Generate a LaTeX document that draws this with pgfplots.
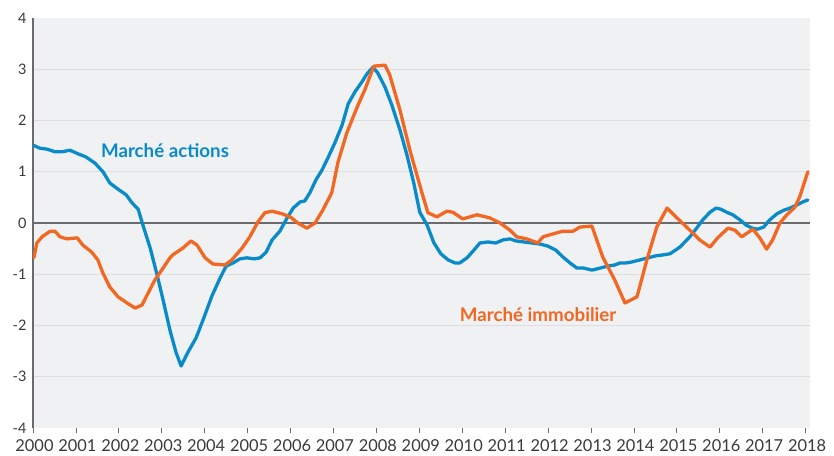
\documentclass[border=0pt]{standalone}
\usepackage{fontspec}
\setmainfont{Lato}
\usepackage{pgfplots}
\pgfplotsset{compat=1.18}
\definecolor{bgc}{HTML}{F0F1F3}
\definecolor{gridc}{HTML}{DCDEE1}
\definecolor{axc}{HTML}{6B6B6E}
\definecolor{txtc}{HTML}{3A3A3C}
\definecolor{cblue}{HTML}{0A8BC9}
\definecolor{corange}{HTML}{F26722}
\begin{document}
\begin{tikzpicture}
\begin{axis}[name=ax, scale only axis, width=777bp, height=410bp,
  xmin=2000, xmax=2018.1, ymin=-4, ymax=4,
  axis background/.style={fill=bgc},
  axis lines*=left,
  x axis line style={draw=none},
  y axis line style={draw=axc, line width=1.6bp},
  xtick={2000,...,2018},
  xticklabels={2000,2001,2002,2003,2004,2005,2006,2007,2008,2009,2010,2011,2012,2013,2014,2015,2016,2017,2018},
  xtick align=outside, major tick length=5bp,
  xtick style={draw=axc, line width=0.8bp},
  ytick={-3,-2,-1,0,1,2,3},
  yticklabels={-3,-2,-1,0,1,2,3},
  extra y ticks={-4,4}, extra y tick labels={-4,4},
  extra y tick style={ymajorgrids=false},
  ytick style={draw=none},
  ymajorgrids, grid style={gridc, line width=1bp},
  tick label style={text=txtc},
  yticklabel style={font=\fontsize{14.5}{17}\selectfont, xshift=-3bp},
  xticklabel style={font=\fontsize{16.5}{18}\selectfont, yshift=-3bp, xshift=1.5bp},
  every axis plot/.append style={line width=3.3bp, line join=round, line cap=round},
]
\draw[axc, line width=1.6bp] (axis cs:2000,0) -- (axis cs:2018.1,0);

\addplot[cblue] coordinates {
(2000.00,1.52) (2000.16,1.46) (2000.33,1.44) (2000.51,1.39) (2000.68,1.39)
(2000.86,1.42) (2001.05,1.35) (2001.23,1.29) (2001.44,1.17) (2001.63,1.00)
(2001.79,0.78) (2001.98,0.66) (2002.17,0.55) (2002.31,0.39) (2002.45,0.27)
(2002.56,-0.04) (2002.73,-0.49) (2002.89,-1.01) (2003.03,-1.50) (2003.19,-2.09)
(2003.33,-2.52) (2003.45,-2.79) (2003.61,-2.52) (2003.80,-2.24) (2003.98,-1.85)
(2004.17,-1.42) (2004.36,-1.07) (2004.50,-0.84) (2004.66,-0.78) (2004.82,-0.70)
(2004.98,-0.68) (2005.15,-0.70) (2005.29,-0.68) (2005.43,-0.57) (2005.57,-0.33)
(2005.75,-0.16) (2005.92,0.10) (2006.06,0.29) (2006.22,0.41) (2006.33,0.43)
(2006.45,0.59) (2006.59,0.84) (2006.73,1.03) (2006.87,1.27) (2007.03,1.56)
(2007.20,1.91) (2007.34,2.32) (2007.50,2.56) (2007.66,2.75) (2007.78,2.91)
(2007.92,3.04) (2008.03,2.93) (2008.20,2.65) (2008.36,2.30) (2008.55,1.81)
(2008.71,1.33) (2008.87,0.78) (2009.01,0.21) (2009.18,-0.04) (2009.34,-0.39)
(2009.50,-0.60) (2009.67,-0.72) (2009.83,-0.78) (2009.94,-0.78) (2010.11,-0.68)
(2010.27,-0.53) (2010.41,-0.39) (2010.60,-0.37) (2010.78,-0.39) (2010.95,-0.33)
(2011.11,-0.31) (2011.25,-0.35) (2011.43,-0.37) (2011.62,-0.39) (2011.81,-0.41)
(2011.99,-0.45) (2012.18,-0.53) (2012.34,-0.66) (2012.51,-0.78) (2012.67,-0.88)
(2012.83,-0.88) (2013.02,-0.92) (2013.21,-0.88) (2013.39,-0.84) (2013.55,-0.82)
(2013.67,-0.78) (2013.81,-0.78) (2013.95,-0.76) (2014.14,-0.72) (2014.32,-0.68)
(2014.51,-0.64) (2014.70,-0.62) (2014.84,-0.60) (2015.07,-0.47) (2015.30,-0.27)
(2015.46,-0.10) (2015.60,0.06) (2015.77,0.21) (2015.91,0.29) (2016.02,0.27)
(2016.16,0.21) (2016.30,0.16) (2016.47,0.06) (2016.61,-0.04) (2016.75,-0.10)
(2016.88,-0.12) (2017.02,-0.08) (2017.16,0.06) (2017.33,0.18) (2017.49,0.25)
(2017.63,0.29) (2017.79,0.35) (2017.93,0.41) (2018.05,0.45)
};

\addplot[corange] coordinates {
(2000.02,-0.68) (2000.09,-0.39) (2000.21,-0.27) (2000.33,-0.20) (2000.40,-0.16)
(2000.51,-0.16) (2000.63,-0.27) (2000.79,-0.31) (2001.03,-0.29) (2001.16,-0.43)
(2001.37,-0.57) (2001.51,-0.72) (2001.63,-0.98) (2001.79,-1.25) (2001.98,-1.44)
(2002.19,-1.56) (2002.38,-1.66) (2002.54,-1.60) (2002.68,-1.37) (2002.84,-1.11)
(2003.03,-0.88) (2003.19,-0.68) (2003.26,-0.62) (2003.49,-0.49) (2003.68,-0.35)
(2003.82,-0.43) (2004.01,-0.68) (2004.19,-0.80) (2004.47,-0.82) (2004.63,-0.72)
(2004.87,-0.49) (2005.05,-0.27) (2005.24,0.02) (2005.40,0.20) (2005.57,0.23)
(2005.80,0.18) (2005.99,0.12) (2006.17,0.00) (2006.38,-0.10) (2006.57,0.00)
(2006.75,0.25) (2006.96,0.59) (2007.10,1.17) (2007.31,1.76) (2007.55,2.26)
(2007.73,2.60) (2007.94,3.06) (2008.20,3.08) (2008.31,2.89) (2008.55,2.20)
(2008.78,1.42) (2009.06,0.59) (2009.20,0.20) (2009.41,0.12) (2009.64,0.23)
(2009.78,0.21) (2010.01,0.08) (2010.18,0.12) (2010.34,0.16) (2010.64,0.10)
(2010.88,0.00) (2011.11,-0.14) (2011.27,-0.27) (2011.50,-0.31) (2011.76,-0.39)
(2011.88,-0.27) (2012.04,-0.23) (2012.34,-0.16) (2012.58,-0.16) (2012.74,-0.08)
(2013.02,-0.06) (2013.27,-0.66) (2013.55,-1.11) (2013.79,-1.56) (2014.07,-1.44)
(2014.30,-0.72) (2014.53,-0.08) (2014.77,0.29) (2015.00,0.10) (2015.30,-0.14)
(2015.53,-0.33) (2015.77,-0.47) (2015.95,-0.29) (2016.19,-0.10) (2016.35,-0.14)
(2016.51,-0.27) (2016.63,-0.20) (2016.77,-0.12) (2016.93,-0.29) (2017.09,-0.51)
(2017.23,-0.33) (2017.40,0.00) (2017.56,0.16) (2017.75,0.31) (2017.86,0.51)
(2018.05,1.00)
};

\node[anchor=west, inner sep=0pt, text=cblue, font=\bfseries\fontsize{18.8}{20}\selectfont] at (axis cs:2001.58,1.42) {Marché actions};
\node[anchor=west, inner sep=0pt, text=corange, font=\bfseries\fontsize{18.8}{20}\selectfont] at (axis cs:2009.94,-1.78) {Marché immobilier};
\end{axis}
\pgfresetboundingbox
\path ([shift={(-33bp,-28bp)}]ax.south west) rectangle ([shift={(24bp,18bp)}]ax.north east);
\end{tikzpicture}
\end{document}
